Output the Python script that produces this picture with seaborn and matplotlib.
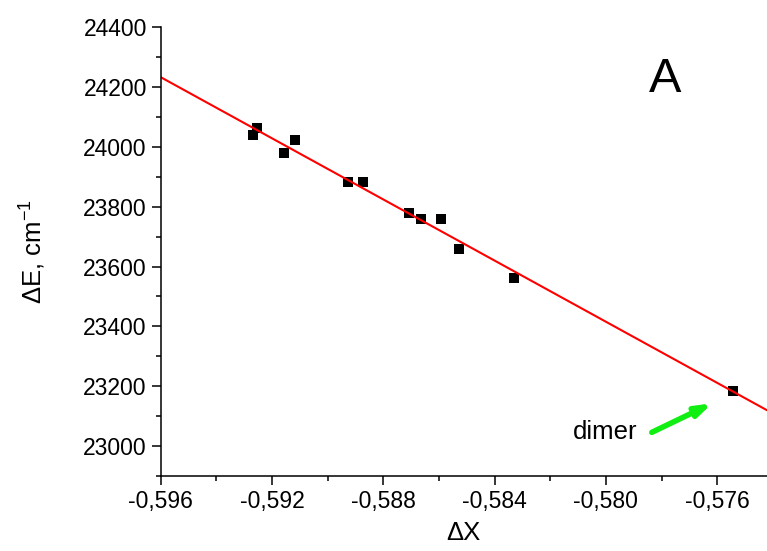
import numpy as np
import pandas as pd
import matplotlib
matplotlib.use("Agg")
import matplotlib.pyplot as plt
from matplotlib.ticker import FuncFormatter, MultipleLocator
import seaborn as sns

# data
delta_x = [-0.59267, -0.59255, -0.59156, -0.59117, -0.58926, -0.58874,
           -0.58707, -0.58666, -0.58593, -0.58529, -0.58331, -0.57543]
delta_e = [24038, 24061, 23978, 24024, 23881, 23881,
           23780, 23759, 23759, 23657, 23560, 23185]

df = pd.DataFrame({"dX": delta_x, "dE": delta_e})

sns.set_style("ticks")
plt.rcParams["font.family"] = ["Liberation Sans", "DejaVu Sans"]
plt.rcParams["mathtext.fontset"] = "custom"
plt.rcParams["mathtext.rm"] = "Liberation Sans"
plt.rcParams["axes.unicode_minus"] = False
for k in ["text.color", "axes.labelcolor", "xtick.color", "ytick.color", "axes.edgecolor"]:
    plt.rcParams[k] = "black"

fig = plt.figure(figsize=(7.67, 5.51), dpi=100)
ax = fig.add_axes([0.2095, 0.136, 0.7905, 0.815])
ax.set_xlim(-0.596, -0.57421)
ax.set_ylim(22900, 24400)

sns.regplot(data=df, x="dX", y="dE", ax=ax, ci=None, truncate=False,
            marker="s",
            scatter_kws={"s": 48, "color": "black", "linewidths": 0, "alpha": 1},
            line_kws={"color": "red", "linewidth": 1.5})

ax.set_xlim(-0.596, -0.57421)
ax.set_ylim(22900, 24400)

ax.xaxis.set_major_locator(MultipleLocator(0.004))
ax.xaxis.set_minor_locator(MultipleLocator(0.002))
ax.yaxis.set_major_locator(MultipleLocator(200))
ax.yaxis.set_minor_locator(MultipleLocator(100))
ax.xaxis.set_major_formatter(FuncFormatter(lambda v, p: f"{v:.3f}".replace(".", ",")))
ax.yaxis.set_major_formatter(FuncFormatter(lambda v, p: f"{v:.0f}"))

ax.tick_params(axis="both", which="major", length=6.5, width=1.1, labelsize=16.5, color="black")
ax.tick_params(axis="both", which="minor", length=3.5, width=1.1, color="black")
sns.despine(ax=ax)
for s in ["left", "bottom"]:
    ax.spines[s].set_linewidth(1.1)
    ax.spines[s].set_color("black")

ax.set_xlabel("ΔX", fontsize=18.5, labelpad=6)
ax.set_ylabel("ΔE, cm$^{-1}$", fontsize=18.5, labelpad=26)

ax.text(-0.57788, 24224, "A", fontsize=35, ha="center", va="center")
ax.text(-0.58003, 23046, "dimer", fontsize=18.5, ha="center", va="center")
ax.annotate("", xy=(-0.57618, 23143), xytext=(-0.57835, 23046),
            arrowprops=dict(arrowstyle="-|>,head_length=0.9,head_width=0.3",
                            color="#11ee11", lw=4, shrinkA=0, shrinkB=0))

plt.savefig("out.png", dpi=100)
